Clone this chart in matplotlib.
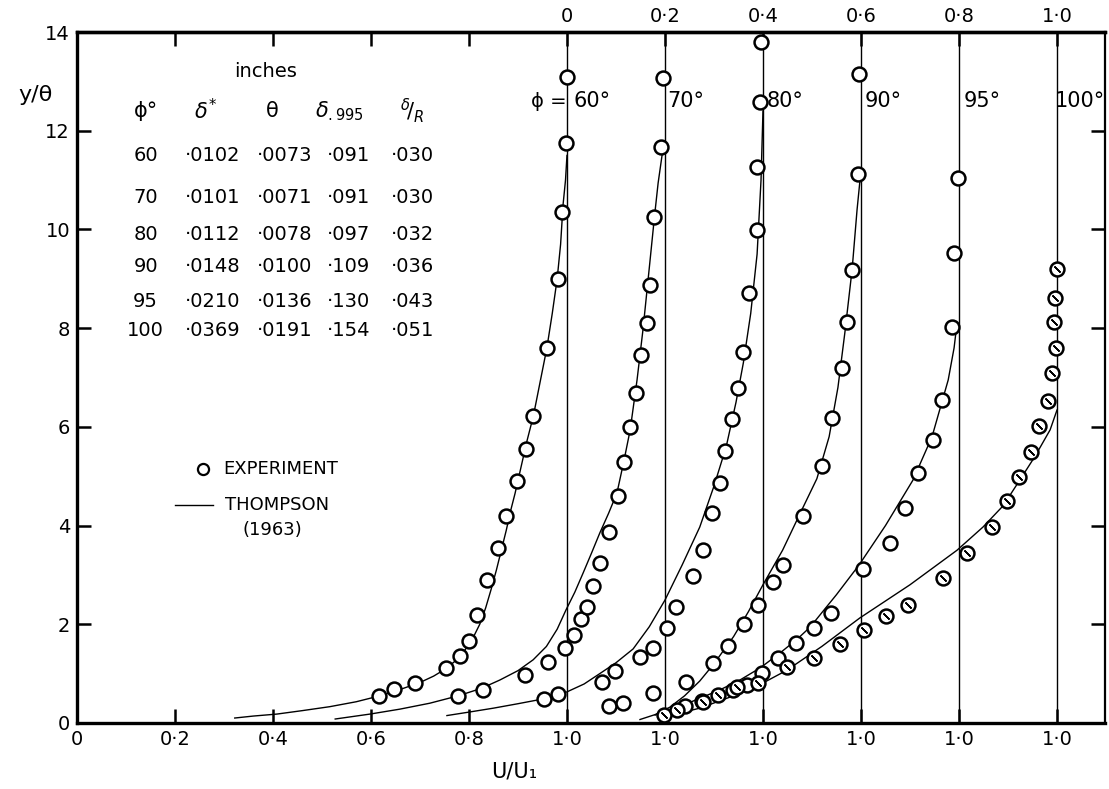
import matplotlib
matplotlib.use("Agg")
import matplotlib.pyplot as plt

plt.rcParams['font.family'] = ['DejaVu Sans']

# Measured profiles, U/U1 against y/theta, one list pair per angle phi.
u60 = [0.616, 0.647, 0.690, 0.753, 0.782, 0.800, 0.816, 0.837, 0.859, 0.876, 0.898, 0.916, 0.931, 0.959, 0.982, 0.990, 0.998, 1.000]
y60 = [0.55, 0.69, 0.81, 1.11, 1.36, 1.66, 2.19, 2.90, 3.55, 4.19, 4.90, 5.55, 6.22, 7.60, 9.00, 10.35, 11.75, 13.09]

u70 = [0.578, 0.629, 0.714, 0.761, 0.796, 0.814, 0.829, 0.841, 0.853, 0.867, 0.886, 0.904, 0.916, 0.929, 0.941, 0.951, 0.963, 0.969, 0.978, 0.992, 0.996]
y70 = [0.55, 0.67, 0.97, 1.24, 1.52, 1.78, 2.11, 2.35, 2.78, 3.24, 3.87, 4.59, 5.29, 6.00, 6.69, 7.45, 8.10, 8.87, 10.25, 11.67, 13.07]

u80 = [0.553, 0.582, 0.671, 0.698, 0.749, 0.776, 0.804, 0.822, 0.857, 0.878, 0.896, 0.912, 0.922, 0.937, 0.949, 0.959, 0.971, 0.988, 0.988, 0.994, 0.996]
y80 = [0.49, 0.59, 0.83, 1.05, 1.34, 1.52, 1.93, 2.35, 2.98, 3.51, 4.25, 4.86, 5.51, 6.16, 6.79, 7.52, 8.71, 9.99, 11.26, 12.58, 13.80]

u90 = [0.486, 0.514, 0.576, 0.643, 0.698, 0.729, 0.761, 0.790, 0.820, 0.841, 0.882, 0.920, 0.941, 0.961, 0.971, 0.982, 0.994, 0.996]
y90 = [0.34, 0.41, 0.61, 0.83, 1.22, 1.56, 2.01, 2.39, 2.86, 3.20, 4.19, 5.21, 6.18, 7.19, 8.12, 9.18, 11.12, 13.15]

u95 = [0.441, 0.476, 0.539, 0.567, 0.598, 0.631, 0.667, 0.704, 0.739, 0.804, 0.859, 0.890, 0.916, 0.947, 0.965, 0.986, 0.990, 0.998]
y95 = [0.34, 0.45, 0.67, 0.77, 1.01, 1.32, 1.62, 1.92, 2.23, 3.12, 3.65, 4.36, 5.06, 5.73, 6.54, 8.02, 9.52, 11.04]

u100 = [0.198, 0.224, 0.277, 0.308, 0.347, 0.390, 0.449, 0.504, 0.557, 0.606, 0.651, 0.696, 0.767, 0.816, 0.867, 0.898, 0.922, 0.947, 0.963, 0.982, 0.990, 0.998, 0.994, 0.996, 1.000]
y100 = [0.16, 0.26, 0.43, 0.57, 0.73, 0.81, 1.13, 1.32, 1.60, 1.88, 2.17, 2.39, 2.94, 3.44, 3.97, 4.50, 4.98, 5.49, 6.02, 6.52, 7.09, 7.60, 8.12, 8.61, 9.20]

# Thompson (1963) curves
tu60 = [0.322, 0.36, 0.408, 0.46, 0.516, 0.57, 0.618, 0.66, 0.70, 0.728, 0.753, 0.775, 0.792, 0.808, 0.822, 0.834,
        0.845, 0.856, 0.866, 0.876, 0.885, 0.894, 0.902, 0.910, 0.918, 0.927, 0.935, 0.947, 0.959, 0.970, 0.980,
        0.987, 0.992, 0.997, 1.0]
ty60 = [0.10, 0.14, 0.18, 0.25, 0.33, 0.43, 0.55, 0.68, 0.82, 0.95, 1.10, 1.28, 1.48, 1.72, 2.0, 2.33,
        2.7, 3.1, 3.5, 3.9, 4.3, 4.65, 5.0, 5.35, 5.7, 6.05, 6.4, 7.0, 7.6, 8.3, 9.0,
        9.7, 10.5, 11.0, 11.5]
tu70 = [0.327, 0.398, 0.459, 0.52, 0.578, 0.625, 0.663, 0.70, 0.731, 0.758, 0.780, 0.798, 0.816, 0.833, 0.850,
        0.867, 0.885, 0.902, 0.916, 0.929, 0.943, 0.955, 0.969, 0.979, 0.986, 0.994, 1.0]
ty70 = [0.08, 0.18, 0.28, 0.40, 0.55, 0.70, 0.87, 1.06, 1.28, 1.55, 1.90, 2.29, 2.65, 3.04, 3.44,
        3.85, 4.25, 4.66, 5.3, 5.94, 6.95, 7.96, 9.32, 10.3, 10.94, 11.5, 11.8]
tu80 = [0.355, 0.40, 0.45, 0.50, 0.553, 0.60, 0.635, 0.667, 0.70, 0.735, 0.768, 0.80, 0.835, 0.871, 0.90,
        0.925, 0.945, 0.96, 0.975, 0.988, 0.996, 1.0]
ty80 = [0.15, 0.22, 0.30, 0.39, 0.49, 0.63, 0.79, 1.0, 1.22, 1.5, 1.95, 2.49, 3.2, 3.97, 4.8,
        5.6, 6.5, 7.3, 8.3, 9.5, 11.0, 12.4]
tu90 = [0.549, 0.58, 0.61, 0.64, 0.671, 0.70, 0.74, 0.77, 0.80, 0.84, 0.876, 0.91, 0.935, 0.953, 0.967, 0.982,
        0.992, 1.0]
ty90 = [0.07, 0.17, 0.32, 0.55, 0.85, 1.2, 1.75, 2.25, 2.8, 3.5, 4.25, 4.95, 5.8, 6.8, 7.9, 9.2,
        10.4, 11.2]
tu95 = [0.38, 0.43, 0.471, 0.51, 0.553, 0.595, 0.635, 0.67, 0.696, 0.75, 0.796, 0.85, 0.906, 0.945, 0.978, 0.99, 0.996]
ty95 = [0.16, 0.33, 0.50, 0.66, 0.87, 1.12, 1.42, 1.7, 1.94, 2.6, 3.2, 4.0, 4.92, 5.8, 6.95, 7.6, 8.1]
tu100 = [0.19, 0.271, 0.34, 0.400, 0.449, 0.52, 0.598, 0.70, 0.796, 0.849, 0.89, 0.924, 0.955, 0.986, 1.0]
ty100 = [0.1, 0.30, 0.55, 0.81, 1.07, 1.55, 2.13, 2.8, 3.50, 3.97, 4.4, 4.92, 5.4, 5.94, 6.34]

phis = ["60°", "70°", "80°", "90°", "95°", "100°"]
step = 0.2  # each profile is shifted right by this much

# table of boundary layer thicknesses (inches)
tab_phi = ["60", "70", "80", "90", "95", "100"]
tab_dstar = ["·0102", "·0101", "·0112", "·0148", "·0210", "·0369"]
tab_theta = ["·0073", "·0071", "·0078", "·0100", "·0136", "·0191"]
tab_d995 = ["·091", "·091", "·097", "·109", "·130", "·154"]
tab_dR = ["·030", "·030", "·032", "·036", "·043", "·051"]

bottom_ticks = [0, 0.2, 0.4, 0.6, 0.8, 1.0, 1.2, 1.4, 1.6, 1.8, 2.0]
bottom_labels = ["0", "0·2", "0·4", "0·6", "0·8", "1·0", "1·0", "1·0", "1·0", "1·0", "1·0"]
top_ticks = [0.2, 0.4, 0.6, 0.8, 1.0, 1.2, 1.4, 1.6, 1.8, 2.0]
top_labels = ["", "", "", "", "0", "0·2", "0·4", "0·6", "0·8", "1·0"]

fig = plt.figure(figsize=(11.09, 7.89), dpi=100)
ax = fig.add_axes([0.0694, 0.0837, 0.9270, 0.8757])

meas = [(u60, y60), (u70, y70), (u80, y80), (u90, y90), (u95, y95), (u100, y100)]
theo = [(tu60, ty60), (tu70, ty70), (tu80, ty80), (tu90, ty90), (tu95, ty95), (tu100, ty100)]

for k in range(6):
    off = k * step
    ax.axvline(1.0 + off, color='black', lw=1.0, zorder=1)
    tu, ty = theo[k]
    ax.plot([u + off for u in tu], ty, color='black', lw=1.0, zorder=2)
    u, y = meas[k]
    ax.plot([v + off for v in u], y, 'o', ms=10, mfc='white', mec='black', mew=1.8, zorder=3)
    if k == 5:
        # hatched circles for the 100 degree profile
        ax.plot([v + off for v in u], y, marker=(2, 2, 45), ls='none', ms=6,
                mec='black', mew=1.0, zorder=4)

# angle labels near the top
ax.text(0.962, 12.6, "ϕ =", fontsize=14, ha='center', va='center')
lab_x = [1.052, 1.243, 1.445, 1.645, 1.848, 2.047]
for k in range(6):
    ax.text(lab_x[k], 12.6, phis[k], fontsize=15, ha='center', va='center')

# table
ax.text(0.385, 13.2, "inches", fontsize=14, ha='center', va='center')
hy = 12.4
ax.text(0.14, hy, "ϕ°", fontsize=15, ha='center', va='center')
ax.text(0.262, hy, r"$\delta^{*}$", fontsize=15, ha='center', va='center')
ax.text(0.398, hy, "θ", fontsize=15, ha='center', va='center')
ax.text(0.535, hy, r"$\delta_{.995}$", fontsize=15, ha='center', va='center')
ax.text(0.685, hy, r"$^{\delta}\!/_{R}$", fontsize=15, ha='center', va='center')
row_y = [11.50, 10.65, 9.90, 9.25, 8.55, 7.95]
for i in range(6):
    ry = row_y[i]
    ax.text(0.14, ry, tab_phi[i], fontsize=14, ha='center', va='center')
    ax.text(0.22, ry, tab_dstar[i], fontsize=14, ha='left', va='center')
    ax.text(0.368, ry, tab_theta[i], fontsize=14, ha='left', va='center')
    ax.text(0.51, ry, tab_d995[i], fontsize=14, ha='left', va='center')
    ax.text(0.64, ry, tab_dR[i], fontsize=14, ha='left', va='center')

# legend
ax.plot([0.257], [5.15], 'o', ms=8, mfc='white', mec='black', mew=1.6)
ax.text(0.298, 5.15, "EXPERIMENT", fontsize=13, ha='left', va='center')
ax.plot([0.20, 0.278], [4.42, 4.42], color='black', lw=1.0)
ax.text(0.302, 4.42, "THOMPSON", fontsize=13, ha='left', va='center')
ax.text(0.398, 3.92, "(1963)", fontsize=13, ha='center', va='center')

ax.set_xlim(0, 2.098)
ax.set_ylim(0, 14)

ax.set_yticks(range(0, 15, 2))
ax.set_yticklabels([str(v) for v in range(0, 15, 2)], fontsize=14)
ax.set_xticks(bottom_ticks)
ax.set_xticklabels(bottom_labels, fontsize=14)
ax.tick_params(axis='both', direction='in', length=10, width=1.8, pad=5)
ax.tick_params(axis='y', right=True, labelright=False)

top = ax.secondary_xaxis('top')
top.set_xticks(top_ticks)
top.set_xticklabels(top_labels, fontsize=14)
top.tick_params(direction='in', length=10, width=1.8, pad=4)

for side in ['left', 'bottom', 'top']:
    ax.spines[side].set_linewidth(2.4)
ax.spines['right'].set_linewidth(1.6)
top.spines['top'].set_linewidth(2.4)

fig.text(0.032, 0.88, "y/θ", fontsize=16, ha='center', va='center')
fig.text(0.464, 0.022, "U/U₁", fontsize=15, ha='center', va='center')

fig.savefig("out.png", dpi=100)
